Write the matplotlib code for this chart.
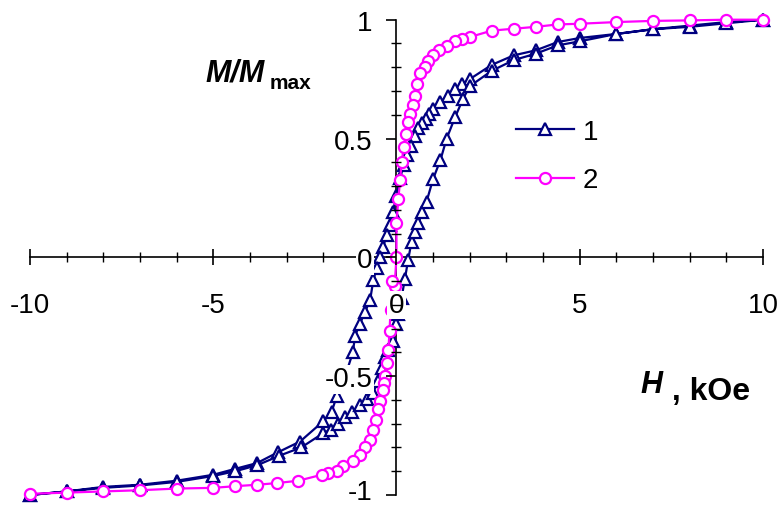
import matplotlib
matplotlib.use('Agg')
import matplotlib.pyplot as plt
from matplotlib.ticker import MultipleLocator
from matplotlib.transforms import ScaledTranslation

plt.rcParams['font.family'] = ['Liberation Sans', 'DejaVu Sans']

# curve 1: field going down from +10 kOe, then back up
h1_down = [10, 9, 8, 7, 6, 5, 4.4, 3.8, 3.2, 2.6, 2.0, 1.8, 1.6, 1.4, 1.2, 1.0,
           0.9, 0.8, 0.7, 0.6, 0.5, 0.4, 0.3, 0.2, 0.1, 0.0, -0.1, -0.18, -0.27,
           -0.36, -0.45, -0.54, -0.63, -0.72, -0.86, -1.0, -1.13, -1.19, -1.4,
           -1.63, -1.77, -2.0, -2.63, -3.23, -3.81, -4.4, -5.0, -6.0, -7.0, -8.0,
           -9.0, -10.0]
m1_down = [1.0, 0.99, 0.975, 0.96, 0.94, 0.923, 0.906, 0.871, 0.85, 0.81, 0.75,
           0.73, 0.71, 0.68, 0.655, 0.626, 0.605, 0.584, 0.565, 0.545, 0.51, 0.47,
           0.43, 0.39, 0.335, 0.26, 0.19, 0.136, 0.094, 0.045, 0.0, -0.046,
           -0.095, -0.18, -0.23, -0.28, -0.33, -0.40, -0.50, -0.585, -0.65, -0.69,
           -0.775, -0.82, -0.866, -0.89, -0.915, -0.94, -0.957, -0.966, -0.985,
           -1.0]
h1_up = [-10, -9, -8, -7, -6, -5, -4.4, -3.8, -3.2, -2.6, -2.0, -1.8, -1.6, -1.4,
         -1.2, -1.0, -0.8, -0.64, -0.5, -0.4, -0.31, -0.23, -0.1, 0.0, 0.05, 0.14,
         0.23, 0.32, 0.41, 0.5, 0.6, 0.7, 0.82, 1.0, 1.2, 1.37, 1.6, 1.82, 2.0,
         2.6, 3.2, 3.8, 4.4, 5, 6, 7, 8, 9, 10]
m1_up = [-1.0, -0.985, -0.97, -0.96, -0.945, -0.92, -0.90, -0.875, -0.835, -0.80,
         -0.74, -0.725, -0.70, -0.67, -0.65, -0.62, -0.595, -0.57, -0.52, -0.466,
         -0.42, -0.39, -0.35, -0.28, -0.24, -0.17, -0.09, -0.01, 0.066, 0.108,
         0.143, 0.19, 0.234, 0.33, 0.41, 0.5, 0.59, 0.668, 0.72, 0.785, 0.83,
         0.857, 0.892, 0.909, 0.94, 0.96, 0.97, 0.985, 1.0]

# curve 2
h2 = [10, 9, 8, 7, 6, 5, 4.4, 3.8, 3.2, 2.6, 2.0, 1.78, 1.6, 1.37, 1.15, 1.0,
      0.87, 0.78, 0.65, 0.57, 0.5, 0.44, 0.37, 0.32, 0.26, 0.2, 0.14, 0.1, 0.05,
      0.0, 0.0, -0.05, -0.12, -0.16, -0.19, -0.22, -0.26, -0.30, -0.34, -0.38,
      -0.45, -0.5, -0.55, -0.63, -0.72, -0.86, -1.0, -1.18, -1.45, -1.63, -1.86,
      -2.04, -2.68, -3.27, -3.81, -4.4, -5, -6, -7, -8, -9, -10]
m2 = [1.0, 1.0, 0.997, 0.995, 0.99, 0.983, 0.98, 0.97, 0.962, 0.954, 0.927, 0.92,
      0.91, 0.89, 0.872, 0.85, 0.826, 0.80, 0.775, 0.73, 0.68, 0.64, 0.605, 0.57,
      0.52, 0.465, 0.40, 0.325, 0.245, 0.143, 0.0, -0.12, -0.10, -0.22, -0.31,
      -0.39, -0.445, -0.50, -0.53, -0.557, -0.606, -0.64, -0.683, -0.726, -0.768,
      -0.80, -0.83, -0.858, -0.88, -0.898, -0.907, -0.915, -0.94, -0.95, -0.957,
      -0.963, -0.97, -0.973, -0.98, -0.985, -0.99, -0.995]

x_ticks = [-10, -5, 0, 5, 10]
x_labels = ['-10', '-5', '0', '5', '10']
y_ticks = [-1, -0.5, 0, 0.5, 1]
y_labels = ['-1', '-0.5', '0', '0.5', '1']

navy = '#000080'
pink = '#FF00FF'

fig = plt.figure(figsize=(7.81, 5.06), dpi=100)
ax = fig.add_axes([0.0384, 0.0198, 0.9385, 0.9393])

ax.plot(h1_down + h1_up, m1_down + m1_up, color=navy, lw=1.6, marker='^',
        ms=8, mfc='white', mec=navy, mew=1.6, clip_on=False, label='1')
ax.plot(h2, m2, color=pink, lw=1.6, marker='o', ms=8, mfc='white', mec=pink,
        mew=1.6, clip_on=False, label='2')

ax.set_xlim(-10, 10)
ax.set_ylim(-1, 1)
for side in ['left', 'bottom']:
    ax.spines[side].set_position('zero')
    ax.spines[side].set_zorder(1)
    ax.spines[side].set_linewidth(1.2)
ax.spines['right'].set_visible(False)
ax.spines['top'].set_visible(False)
ax.set_axisbelow(False)

ax.set_xticks(x_ticks)
ax.set_xticklabels(x_labels)
ax.set_yticks(y_ticks)
ax.set_yticklabels(y_labels)
ax.xaxis.set_minor_locator(MultipleLocator(1))
ax.yaxis.set_minor_locator(MultipleLocator(0.1))
ax.tick_params(axis='x', which='major', direction='inout', length=12, width=1.2,
               pad=19, labelsize=20)
ax.tick_params(axis='x', which='minor', direction='inout', length=7, width=1)
ax.tick_params(axis='y', which='major', direction='out', length=7, width=1.2,
               pad=10, labelsize=20)
ax.tick_params(axis='y', which='minor', direction='inout', length=7, width=1)
for lab in ax.get_xticklabels() + ax.get_yticklabels():
    lab.set_bbox(dict(facecolor='white', edgecolor='none', pad=1))
# nudge the bottom "-1" up a little so it stays inside the picture
low = ax.get_yticklabels()[0]
low.set_transform(low.get_transform() + ScaledTranslation(0, 4 / 72, fig.dpi_scale_trans))

mm = fig.text(0.2625, 0.838, 'M/M', fontsize=22, fontweight='bold',
              style='italic', va='baseline')
ax.annotate('max', xy=(1, 0), xycoords=mm, xytext=(4, 0),
            textcoords='offset points', fontsize=15, fontweight='bold',
            va='baseline')
hh = fig.text(0.8207, 0.2233, 'H', fontsize=22, fontweight='bold',
              style='italic', va='baseline')
ax.annotate(' , kOe', xy=(1, 0), xycoords=hh, xytext=(0, 0),
            textcoords='offset points', fontsize=23, fontweight='bold',
            va='baseline')

ax.legend(loc='upper left', bbox_to_anchor=(0.643, 0.79),
          bbox_transform=fig.transFigure, frameon=False, fontsize=20,
          handlelength=2.1, handletextpad=0.3, labelspacing=0.8, borderpad=0)

fig.savefig('out.png', dpi=100)
